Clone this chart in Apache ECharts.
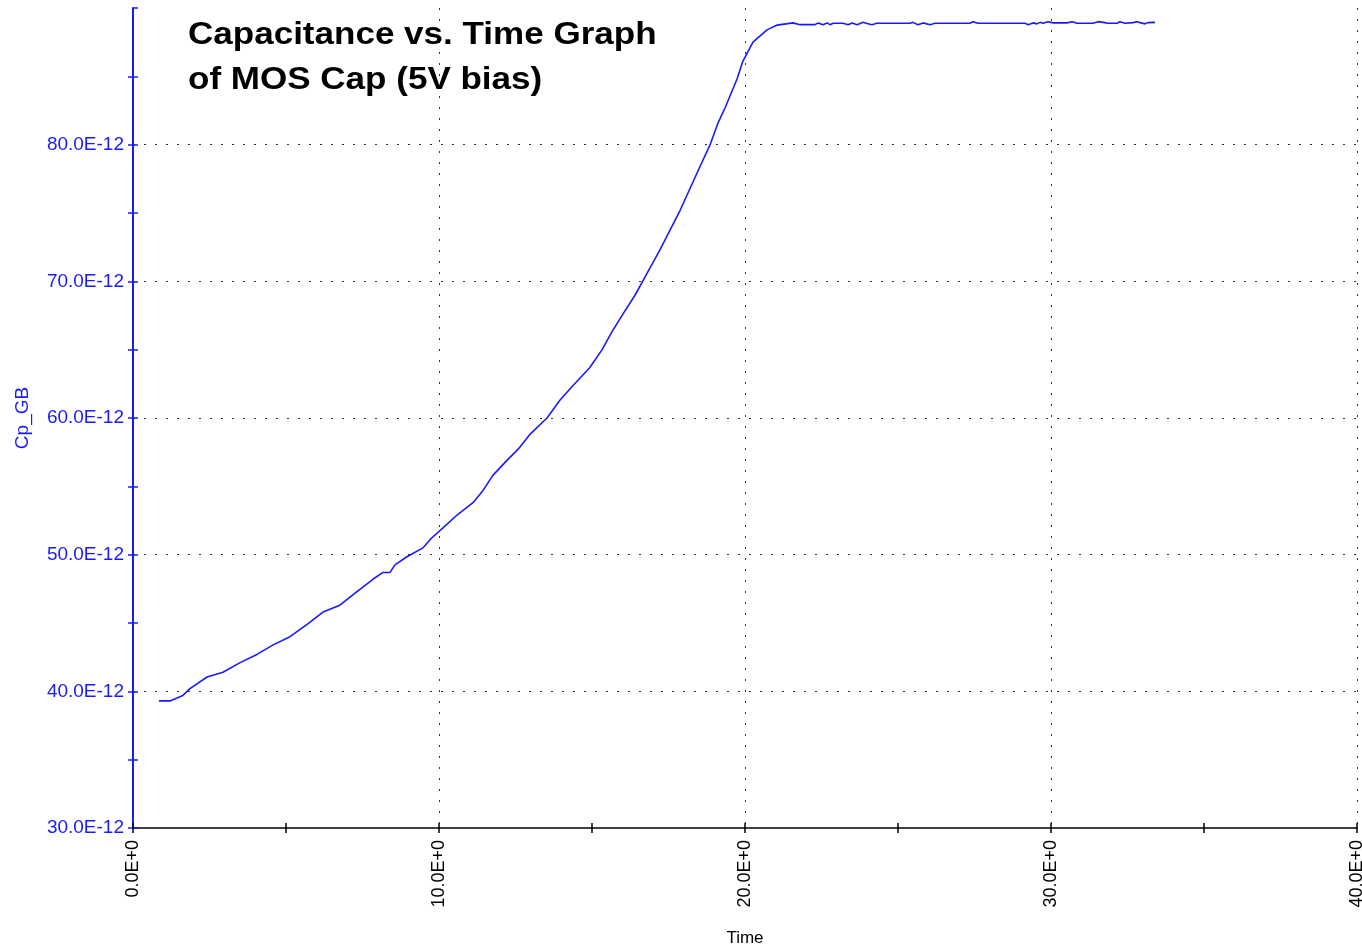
<!DOCTYPE html>
<html>
<head>
<meta charset="utf-8">
<title>Capacitance vs. Time</title>
<script src="https://cdn.jsdelivr.net/npm/echarts@6/dist/echarts.min.js"></script>
<style>
  html, body { margin: 0; padding: 0; background: #ffffff; }
  #chart { width: 1362px; height: 949px; }
</style>
</head>
<body>
<div id="chart"></div>
<script>
// Measured capacitance of the MOS capacitor under 5 V bias (values in pF, shown as E-12)
const timeSec = [
  0.85, 1.21, 1.63, 1.86, 2.42, 2.94, 3.50, 4.05, 4.58, 5.13,
  5.69, 6.21, 6.76, 7.32, 7.84, 8.17, 8.40, 8.56, 8.95, 9.48,
  9.75, 10.13, 10.59, 11.11, 11.44, 11.76, 12.22, 12.58, 12.97, 13.53,
  13.95, 14.35, 14.93, 15.33, 15.65, 16.01, 16.41, 16.73, 17.22, 17.88,
  18.53, 18.86, 19.12, 19.35, 19.74, 19.93, 20.26, 20.72, 21.05, 21.57,
  21.80, 22.29, 22.39, 22.55, 22.68, 22.78, 22.88, 23.20, 23.37, 23.50,
  23.66, 23.86, 23.99, 24.15, 24.31, 25.39, 25.49, 25.65, 25.82, 26.05,
  26.21, 27.35, 27.45, 27.61, 29.15, 29.25, 29.41, 29.54, 29.64, 29.74,
  29.90, 30.07, 30.52, 30.69, 30.85, 31.37, 31.54, 31.70, 31.86, 32.16,
  32.25, 32.42, 32.68, 32.81, 32.91, 33.07, 33.17, 33.40
];
const capPF = [
  39.30, 39.30, 39.70, 40.20, 41.05, 41.40, 42.10, 42.70, 43.40, 44.00,
  44.90, 45.80, 46.30, 47.30, 48.20, 48.70, 48.70, 49.25, 49.85, 50.50,
  51.20, 51.96, 52.90, 53.80, 54.70, 55.80, 56.90, 57.70, 58.80, 60.00,
  61.30, 62.30, 63.70, 65.00, 66.30, 67.60, 69.00, 70.30, 72.30, 75.20,
  78.40, 80.00, 81.60, 82.70, 84.80, 86.10, 87.50, 88.40, 88.75, 88.91,
  88.78, 88.78, 88.91, 88.78, 88.91, 88.78, 88.88, 88.88, 88.78, 88.91,
  88.78, 88.95, 88.86, 88.78, 88.88, 88.88, 88.95, 88.78, 88.91, 88.78,
  88.88, 88.88, 89.00, 88.88, 88.88, 88.78, 88.91, 88.84, 88.95, 88.88,
  89.00, 88.91, 88.91, 89.00, 88.88, 88.88, 89.00, 88.95, 88.88, 88.88,
  89.00, 88.88, 88.93, 89.00, 88.93, 88.84, 88.93, 88.95
];
const titleLines = ['Capacitance vs. Time Graph', 'of MOS Cap (5V bias)'];
const xName = 'Time';
const yName = 'Cp_GB';

const blue = '#1a1aff';
const font = 'Liberation Sans, Arial, sans-serif';
// dotted grid at every second tick (ticks every 5, grid every 10)
const gridDots = { color: ['transparent', '#333333'], width: 1, type: [2, 9] };

const points = timeSec.map((t, i) => [t, capPF[i]]);

const fmtX = v => (v % 10 === 0 ? v.toFixed(1) + 'E+0' : '');
const fmtY = v => (v % 10 === 0 ? v.toFixed(1) + 'E-12' : '');

const chart = echarts.init(document.getElementById('chart'), null, { renderer: 'canvas' });
chart.setOption({
  animation: false,
  backgroundColor: '#ffffff',
  graphic: [
    {
      type: 'text',
      x: 188,
      y: 13,
      scaleX: 1.13,
      z: 10,
      style: {
        text: titleLines.join('\n'),
        font: 'bold 31px "Liberation Sans", Arial, sans-serif',
        lineHeight: 45,
        fill: '#000000'
      }
    }
  ],
  grid: { left: 133, right: 5, top: 8, bottom: 121, containLabel: false, outerBoundsMode: 'none' },
  xAxis: [
    {
      type: 'value', min: 0, max: 40, interval: 5, position: 'bottom',
      name: xName, nameLocation: 'middle', nameGap: 102,
      nameTextStyle: { fontFamily: font, fontSize: 17, color: '#000000' },
      axisLine: { show: true, onZero: false, lineStyle: { color: '#000000', width: 1.5 } },
      axisTick: { show: true, inside: false, length: 5, lineStyle: { color: '#000000', width: 1.5 } },
      axisLabel: {
        show: true, rotate: 90, margin: 12, formatter: fmtX,
        fontFamily: font, fontSize: 18, color: '#000000',
        showMinLabel: true, showMaxLabel: true, hideOverlap: false
      },
      splitLine: { show: true, showMinLine: false, lineStyle: gridDots }
    },
    {
      type: 'value', min: 0, max: 40, interval: 5, position: 'bottom',
      axisLine: { show: false, onZero: false },
      axisTick: { show: true, inside: true, length: 5, lineStyle: { color: '#000000', width: 1.5 } },
      axisLabel: { show: false },
      splitLine: { show: false }
    }
  ],
  yAxis: [
    {
      type: 'value', min: 30, max: 90, interval: 5, position: 'left',
      name: yName, nameLocation: 'middle', nameGap: 101, nameRotate: 90,
      nameTextStyle: { fontFamily: font, fontSize: 19, color: blue },
      axisLine: { show: true, onZero: false, lineStyle: { color: blue, width: 2 } },
      axisTick: { show: true, inside: false, length: 5, lineStyle: { color: blue, width: 1.5 } },
      axisLabel: {
        show: true, margin: 9, formatter: fmtY, showMaxLabel: false,
        fontFamily: font, fontSize: 19, color: blue
      },
      splitLine: { show: true, showMinLine: false, showMaxLine: false, lineStyle: gridDots }
    },
    {
      type: 'value', min: 30, max: 90, interval: 5, position: 'left',
      axisLine: { show: false, onZero: false },
      axisTick: { show: true, inside: true, length: 5, lineStyle: { color: blue, width: 1.5 } },
      axisLabel: { show: false },
      splitLine: { show: false }
    }
  ],
  series: [
    {
      type: 'line',
      xAxisIndex: 0,
      yAxisIndex: 0,
      data: points,
      showSymbol: false,
      symbol: 'none',
      smooth: false,
      lineStyle: { color: blue, width: 1.6 },
      z: 5
    }
  ]
});
</script>
</body>
</html>
